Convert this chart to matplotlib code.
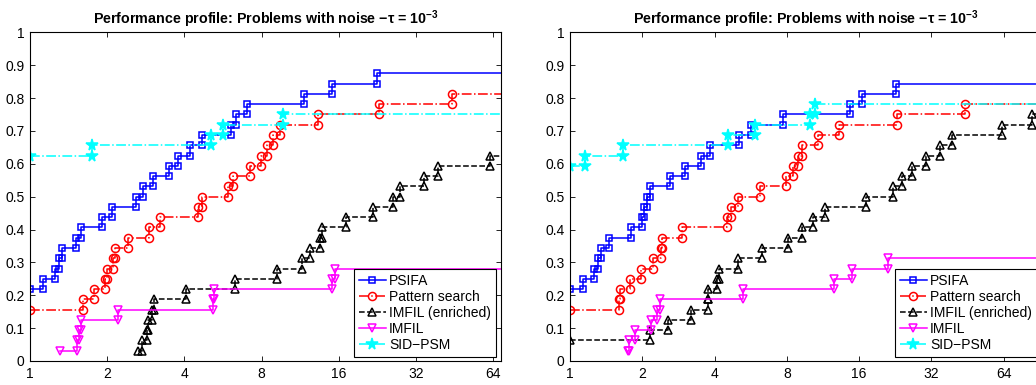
import matplotlib
matplotlib.use("Agg")
import matplotlib.pyplot as plt
import numpy as np

# ---------------------------------------------------------------
# Data: performance profiles, 32 problems.
# x = log2(tau) where the profile steps, k = number of problems solved
# ---------------------------------------------------------------
N_PROB = 32

SOLVERS = ["PSIFA", "Pattern search", "IMFIL (enriched)", "IMFIL", "SID\u2212PSM"]

TICK_LOG2 = [0, 1, 2, 3, 4, 5, 6]
TICK_LABELS = ["1", "2", "4", "8", "16", "32", "64"]
Y_TICKS = [0, 0.1, 0.2, 0.3, 0.4, 0.5, 0.6, 0.7, 0.8, 0.9, 1.0]
Y_LABELS = ["0", "0.1", "0.2", "0.3", "0.4", "0.5", "0.6", "0.7", "0.8", "0.9", "1"]

# left panel
L_PSIFA_X = [0, 0.173, 0.324, 0.380, 0.410, 0.596, 0.656, 0.937, 1.058, 1.373, 1.459,
             1.589, 1.805, 1.921, 2.073, 2.224, 2.599, 2.668, 2.807, 3.554, 3.908, 4.490]
L_PSIFA_K = [7, 8, 9, 10, 11, 12, 13, 14, 15, 16, 17, 18, 19, 20, 21, 22, 23, 24, 25, 26, 27, 28]

L_PATTERN_X = [0, 0.691, 0.829, 0.976, 1.002, 1.079, 1.095, 1.265, 1.541, 1.688, 2.172,
               2.224, 2.569, 2.625, 2.850, 2.988, 3.074, 3.152, 3.238, 3.726, 4.525, 5.462]
L_PATTERN_K = [5, 6, 7, 8, 9, 10, 11, 12, 13, 14, 15, 16, 17, 18, 19, 20, 21, 22, 23, 24, 25, 26]

L_ENRICHED_X = [1.403, 1.446, 1.511, 1.533, 1.576, 1.606, 2.021, 2.655, 3.195, 3.519,
                3.627, 3.756, 3.778, 4.093, 4.447, 4.706, 4.793, 5.104, 5.281, 5.959]
L_ENRICHED_K = [1, 2, 3, 4, 5, 6, 7, 8, 9, 10, 11, 12, 13, 14, 15, 16, 17, 18, 19, 20]

L_IMFIL_X = [0.389, 0.613, 0.639, 0.656, 1.144, 2.375, 2.388, 3.908, 3.951]
L_IMFIL_K = [1, 2, 3, 4, 5, 6, 7, 8, 9]

L_SID_X = [0, 0.807, 2.340, 2.504, 3.282]
L_SID_K = [20, 21, 22, 23, 24]

# right panel
R_PSIFA_X = [0, 0.174, 0.331, 0.390, 0.422, 0.537, 0.840, 1.001, 1.019, 1.060, 1.100,
             1.387, 1.592, 1.818, 1.932, 2.335, 2.505, 2.950, 3.870, 4.040, 4.510]
R_PSIFA_K = [7, 8, 9, 10, 11, 12, 13, 14, 15, 16, 17, 18, 19, 20, 21, 22, 23, 24, 25, 26, 27]

R_PATTERN_X = [0, 0.680, 0.689, 0.826, 0.987, 1.148, 1.263, 1.276, 1.547, 2.167, 2.227,
               2.328, 2.631, 2.990, 3.085, 3.159, 3.205, 3.434, 3.728, 4.522, 5.464]
R_PATTERN_K = [5, 6, 7, 8, 9, 10, 11, 12, 13, 14, 15, 16, 17, 18, 19, 20, 21, 22, 23, 24, 25]

R_ENRICHED_X = [0, 1.111, 1.360, 1.669, 1.905, 1.915, 2.040, 2.060, 2.319, 2.663, 3.021,
                3.205, 3.361, 3.526, 4.090, 4.470, 4.600, 4.730, 4.920, 5.120, 5.290, 5.980, 6.390]
R_ENRICHED_K = [2, 3, 4, 5, 6, 7, 8, 9, 10, 11, 12, 13, 14, 15, 16, 17, 18, 19, 20, 21, 22, 23, 24]

R_IMFIL_X = [0.800, 0.820, 0.895, 1.125, 1.200, 1.240, 2.388, 3.650, 3.903, 4.394]
R_IMFIL_K = [1, 2, 3, 4, 5, 6, 7, 8, 9, 10]

R_SID_X = [0, 0.207, 0.735, 2.190, 2.562, 3.320, 3.385]
R_SID_K = [19, 20, 21, 22, 23, 24, 25]

STYLES = [
    dict(color="#0000ff", ls="-", marker="s", mfc="none", ms=5.0),
    dict(color="#ff0000", ls="-.", marker="o", mfc="none", ms=5.8),
    dict(color="#000000", ls="--", marker="^", mfc="none", ms=6.2),
    dict(color="#ff00ff", ls="-", marker="v", mfc="none", ms=6.2),
    dict(color="#00ffff", ls="-.", marker="*", mfc="#00ffff", ms=8.5),
]

plt.rcParams.update({
    "font.family": ["Liberation Sans", "DejaVu Sans"],
    "font.size": 10,
    "axes.linewidth": 0.8,
    "xtick.direction": "in",
    "ytick.direction": "in",
    "xtick.top": True,
    "ytick.right": True,
    "xtick.major.size": 3.5,
    "ytick.major.size": 3.5,
    "xtick.major.width": 0.6,
    "ytick.major.width": 0.6,
    "xtick.major.pad": 4,
    "ytick.major.pad": 4,
    "mathtext.fontset": "custom",
    "mathtext.rm": "Liberation Sans",
    "mathtext.bf": "Liberation Sans:bold",
    "mathtext.it": "Liberation Sans:italic",
})

X_FAR = 20  # stairs run past the right edge


def stair_xy(xs, ks):
    px, py = [xs[0]], [ks[0]]
    for i in range(1, len(xs)):
        px += [xs[i], xs[i]]
        py += [ks[i - 1], ks[i]]
    px.append(X_FAR)
    py.append(ks[-1])
    return np.array(px), np.array(py) / N_PROB


def profile_panel(ax, series, xmax):
    for (xs, ks), name, st in zip(series, SOLVERS, STYLES):
        px, py = stair_xy(xs, ks)
        ax.plot(px, py, linestyle=st["ls"], color=st["color"], marker=st["marker"],
                markerfacecolor=st["mfc"], markeredgecolor=st["color"], markersize=st["ms"],
                markeredgewidth=1.1, linewidth=1.1, label=name)
    ax.set_xlim(0, xmax)
    ax.set_ylim(0, 1)
    ax.set_xticks(TICK_LOG2)
    ax.set_xticklabels(TICK_LABELS)
    ax.set_yticks(Y_TICKS)
    ax.set_yticklabels(Y_LABELS)
    ax.set_title("Performance profile: Problems with noise \u2212\u03c4 = 10$^{\\mathbf{-3}}$",
                 fontsize=10.3, fontweight="bold", pad=6)
    leg = ax.legend(loc="lower right", bbox_to_anchor=(0.989, 0.013), borderaxespad=0,
                    numpoints=1, handlelength=1.95, handletextpad=0.25, labelspacing=0.15,
                    borderpad=0.35, fancybox=False, framealpha=1, edgecolor="black",
                    fontsize=10)
    leg.get_frame().set_linewidth(0.8)


fig = plt.figure(figsize=(10.36, 3.85), dpi=100)
ax1 = fig.add_axes([30 / 1036, 24 / 385, 471 / 1036, 328.7 / 385])
ax2 = fig.add_axes([570 / 1036, 24 / 385, 472 / 1036, 328.7 / 385])

profile_panel(ax1, [(L_PSIFA_X, L_PSIFA_K), (L_PATTERN_X, L_PATTERN_K),
                    (L_ENRICHED_X, L_ENRICHED_K), (L_IMFIL_X, L_IMFIL_K),
                    (L_SID_X, L_SID_K)], 6.1)
profile_panel(ax2, [(R_PSIFA_X, R_PSIFA_K), (R_PATTERN_X, R_PATTERN_K),
                    (R_ENRICHED_X, R_ENRICHED_K), (R_IMFIL_X, R_IMFIL_K),
                    (R_SID_X, R_SID_K)], 6.53)

fig.savefig("out.png", dpi=100, facecolor="white")
